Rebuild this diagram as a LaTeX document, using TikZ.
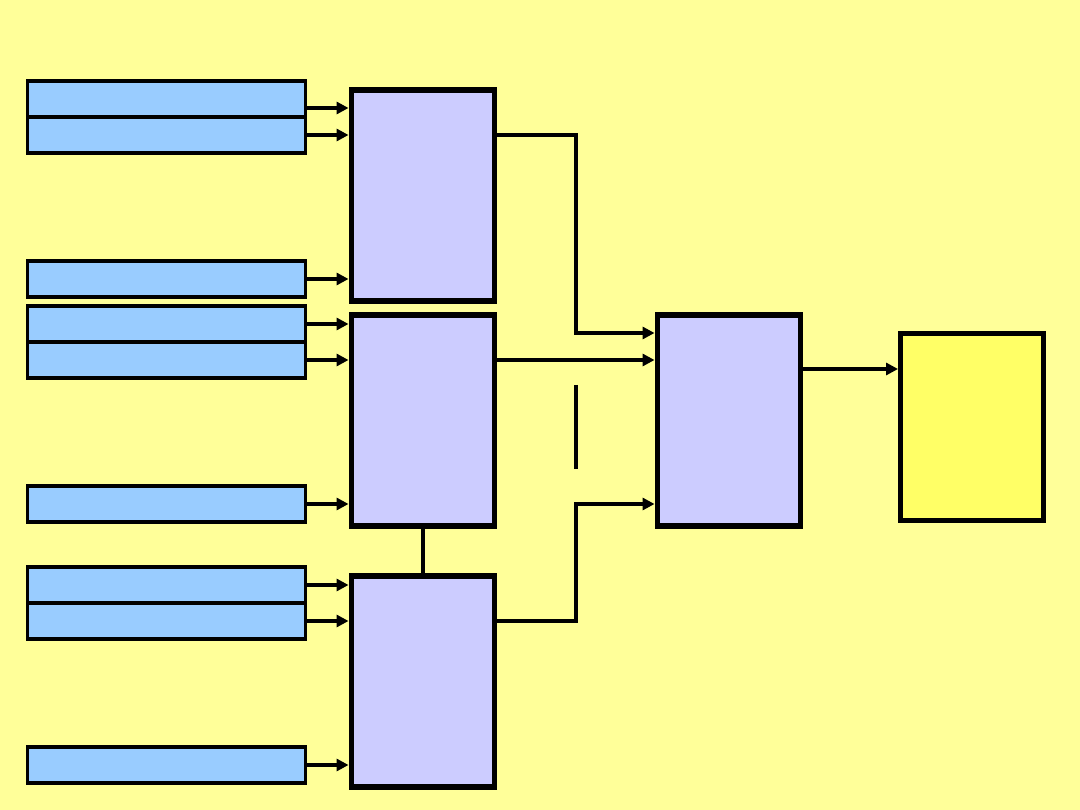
\documentclass[tikz,border=0pt]{standalone}
\usepackage{xcolor}
\usetikzlibrary{positioning, arrows.meta}
\definecolor{bgyellow}{HTML}{FFFF99}
\definecolor{inblue}{HTML}{99CCFF}
\definecolor{unitpurple}{HTML}{CCCCFF}
\definecolor{outyellow}{HTML}{FFFF66}

\tikzset{
    inbox/.style={draw, fill=inblue, line width=2.4pt, minimum width=69.5mm, minimum height=9mm},
    unit/.style={draw, fill=unitpurple, line width=4.2pt, minimum width=35.75mm, minimum height=52.75mm},
    target/.style={draw, fill=outyellow, line width=3.5pt, minimum width=35.75mm, minimum height=46.75mm},
    link/.style={line width=2.3pt},
    arr/.style={link, -{Triangle[length=3mm, width=3mm]}}
}

\begin{document}
\begin{tikzpicture}[x=0.25mm, y=-0.25mm]

\fill[bgyellow] (0,0) rectangle (1080,810);
\useasboundingbox (0,0) rectangle (1080,810);

% input bars
\foreach \nm/\yy in {a1/99, a2/135, a3/279, b1/324, b2/360, b3/504, c1/585, c2/621, c3/765}{
    \node[inbox] (\nm) at (166.5,\yy) {};
}

% processing blocks
\node[unit] (p1) at (423,195.5) {};
\node[unit] (p2) at (423,420.5) {};
\node[unit] (p3) at (423,681.5) {};
\node[unit] (m)  at (729,420.5) {};
\node[target] (res) at (972,427) {};

\coordinate (jx) at (576,0);

\foreach \src/\dst/\yy in {a1/p1/108, a2/p1/135, a3/p1/279,
                           b1/p2/324, b2/p2/360, b3/p2/504,
                           c1/p3/585, c2/p3/621, c3/p3/765}{
    \draw[arr] (\src.east |- 0,\yy) -- (\dst.west |- 0,\yy);
}

\draw[link] (p2.south) -- (p3.north);

\draw[arr] (p1.east |- 0,135) -- (jx |- 0,135) -- (jx |- 0,333) -- (m.west |- 0,333);
\draw[arr] (p2.east |- 0,360) -- (m.west |- 0,360);
\draw[arr] (p3.east |- 0,621) -- (jx |- 0,621) -- (jx |- 0,504) -- (m.west |- 0,504);
\draw[link] (jx |- 0,385) -- (jx |- 0,469);

\draw[arr] (m.east |- 0,369) -- (res.west |- 0,369);

\end{tikzpicture}
\end{document}
